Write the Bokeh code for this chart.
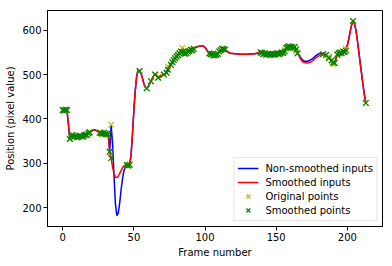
from bokeh.plotting import figure
from bokeh.models import Range1d, FixedTicker, Legend, LegendItem
from bokeh.embed import file_html
from bokeh.resources import INLINE

# ---- data ----
frames = [0, 1, 2, 3, 5, 6, 7, 8, 9, 10, 11, 12, 13, 14, 15, 16, 17, 18, 19,
          26, 27, 28, 29, 30, 31, 32, 33, 34, 45, 46, 47, 54, 59, 62, 65, 67,
          71, 73, 74, 76, 77, 78, 79, 80, 81, 82, 83, 84, 85, 86, 87, 88, 89,
          90, 91, 92, 103, 104, 105, 106, 107, 108, 109, 110, 111, 112, 113,
          114, 139, 140, 141, 142, 143, 144, 145, 146, 147, 148, 149, 150,
          151, 152, 153, 154, 155, 156, 157, 158, 159, 160, 161, 162, 163,
          164, 165, 183, 185, 187, 189, 190, 191, 193, 194, 195, 196, 197,
          198, 199, 204, 213]
original_points = [420, 419, 421, 420, 355, 362, 364, 360, 361, 359, 360, 362,
                   361, 360, 363, 365, 364, 368, 370, 369, 368, 367, 369, 366,
                   367, 365, 326, 387, 296, 295, 297, 508, 469, 485, 500, 493,
                   500, 504, 518, 522, 528, 533, 537, 541, 544, 548, 552, 560,
                   548, 547, 549, 552, 553, 556, 555, 558, 548, 546, 546, 543,
                   544, 545, 547, 552, 555, 558, 557, 556, 550, 549, 546, 548,
                   545, 547, 546, 544, 546, 545, 546, 547, 548, 546, 548, 550,
                   549, 556, 560, 562, 564, 561, 563, 560, 562, 552, 548, 546,
                   544, 540, 532, 524, 526, 545, 548, 550, 548, 552, 551, 558,
                   621, 436]
smoothed_points = [420, 419, 421, 420, 355, 362, 364, 360, 361, 359, 360, 362,
                   361, 360, 363, 365, 364, 368, 370, 369, 368, 367, 369, 366,
                   367, 365, 326, 312, 296, 295, 297, 508, 469, 485, 500, 493,
                   500, 504, 511, 522, 528, 533, 537, 541, 544, 548, 552, 551,
                   548, 547, 549, 552, 553, 556, 555, 558, 548, 546, 546, 543,
                   544, 545, 547, 552, 555, 558, 557, 556, 550, 549, 546, 548,
                   545, 547, 546, 544, 546, 545, 546, 547, 548, 546, 548, 550,
                   549, 552, 560, 562, 564, 561, 563, 560, 562, 557, 548, 546,
                   544, 537, 532, 528, 526, 545, 548, 550, 548, 552, 551, 554,
                   621, 436]

# curve values read between the points (where the curves bend)
blue_gap_frames = [4, 20, 21, 22, 23, 24, 25, 35, 36, 37, 38, 39, 40, 41, 42,
                   43, 44, 48, 49, 50, 51, 52, 53, 55, 56, 57, 58, 60, 61, 63,
                   64, 66, 68, 69, 70, 72, 93, 94, 95, 96, 97, 98, 99, 100,
                   101, 102, 115, 116, 118, 121, 125, 130, 135, 138, 166, 167,
                   168, 169, 170, 171, 172, 173, 174, 175, 176, 177, 178, 179,
                   180, 181, 182, 200, 201, 202, 203, 205, 206, 207, 208, 209,
                   210, 211, 212]
blue_gap_values = [388, 372, 374, 375, 375, 373, 371, 345, 275, 210, 182, 188,
                   210, 240, 265, 283, 293, 318, 365, 420, 465, 497, 511, 503,
                   492, 480, 472, 473, 479, 492, 498, 498, 493, 496, 499, 502,
                   560, 562, 563, 564, 565, 565, 564, 561, 557, 552, 554, 551,
                   548, 547, 546, 546, 547, 549, 544, 539, 535, 532, 530, 530,
                   530, 531, 533, 535, 537, 540, 543, 545, 547, 548, 548, 566,
                   580, 597, 612, 615, 600, 578, 553, 527, 502, 477, 454]
red_gap_frames = blue_gap_frames
red_gap_values = [388, 372, 374, 375, 375, 373, 371, 292, 277, 269, 268, 271,
                  277, 284, 290, 294, 296, 318, 365, 420, 465, 497, 511, 503,
                  492, 480, 472, 473, 479, 492, 498, 498, 493, 496, 499, 502,
                  560, 562, 563, 564, 565, 565, 564, 561, 557, 552, 554, 551,
                  548, 547, 546, 546, 547, 549, 542, 536, 531, 528, 527, 526,
                  526, 527, 528, 530, 532, 535, 538, 540, 542, 544, 545, 566,
                  580, 597, 612, 615, 600, 578, 553, 527, 502, 477, 454]

x_ticks = [0, 50, 100, 150, 200]
y_ticks = [200, 300, 400, 500, 600]


def merged(f1, v1, f2, v2):
    pairs = sorted(zip(list(f1) + list(f2), list(v1) + list(v2)))
    return [p[0] for p in pairs], [p[1] for p in pairs]


blue_x, blue_y = merged(frames, original_points, blue_gap_frames, blue_gap_values)
red_x, red_y = merged(frames, smoothed_points, red_gap_frames, red_gap_values)

FONT = "DejaVu Sans"
p = figure(width=384, height=260, output_backend="svg", toolbar_location=None,
           x_range=Range1d(-10.7, 224.7), y_range=Range1d(157.8, 644.4),
           min_border_left=47, min_border_right=2, min_border_top=10,
           min_border_bottom=32)
p.grid.visible = False
p.outline_line_color = "black"
p.outline_line_alpha = 1
p.background_fill_color = "white"
p.border_fill_color = "white"

for ax in (p.xaxis[0], p.yaxis[0]):
    ax.major_label_text_font = FONT
    ax.major_label_text_font_size = "10px"
    ax.major_label_text_color = "black"
    ax.axis_label_text_font = FONT
    ax.axis_label_text_font_size = "10px"
    ax.axis_label_text_font_style = "normal"
    ax.axis_label_text_color = "black"
    ax.minor_tick_line_color = None
    ax.major_tick_in = 0
    ax.major_tick_out = 4
    ax.major_tick_line_color = "black"
    ax.axis_line_color = "black"
    ax.major_label_standoff = 2
    ax.axis_label_standoff = 3

p.xaxis.ticker = FixedTicker(ticks=x_ticks)
p.yaxis.ticker = FixedTicker(ticks=y_ticks)
p.xaxis.axis_label = "Frame number"
p.yaxis.axis_label = "Position (pixel value)"

r_blue = p.line(blue_x, blue_y, line_color="#0000ff", line_width=1.5)
r_red = p.line(red_x, red_y, line_color="#ff0000", line_width=1.5)
r_orig = p.scatter(frames, original_points, marker="x", size=8,
                   line_color="#bfbf00", line_width=1.2)
r_smooth = p.scatter(frames, smoothed_points, marker="x", size=8,
                     line_color="#008000", line_width=1.2)

legend = Legend(items=[
    LegendItem(label="Non-smoothed inputs", renderers=[r_blue]),
    LegendItem(label="Smoothed inputs", renderers=[r_red]),
    LegendItem(label="Original points", renderers=[r_orig]),
    LegendItem(label="Smoothed points", renderers=[r_smooth]),
], location="bottom_right")
legend.label_text_font = FONT
legend.label_text_font_size = "10px"
legend.label_text_color = "black"
legend.border_line_color = "#cccccc"
legend.background_fill_alpha = 0.8
legend.padding = 3
legend.spacing = 0
legend.margin = 5
legend.glyph_width = 21
legend.glyph_height = 14
legend.label_height = 14
legend.label_standoff = 7
p.add_layout(legend)

open("out.html", "w").write(file_html(p, INLINE))
